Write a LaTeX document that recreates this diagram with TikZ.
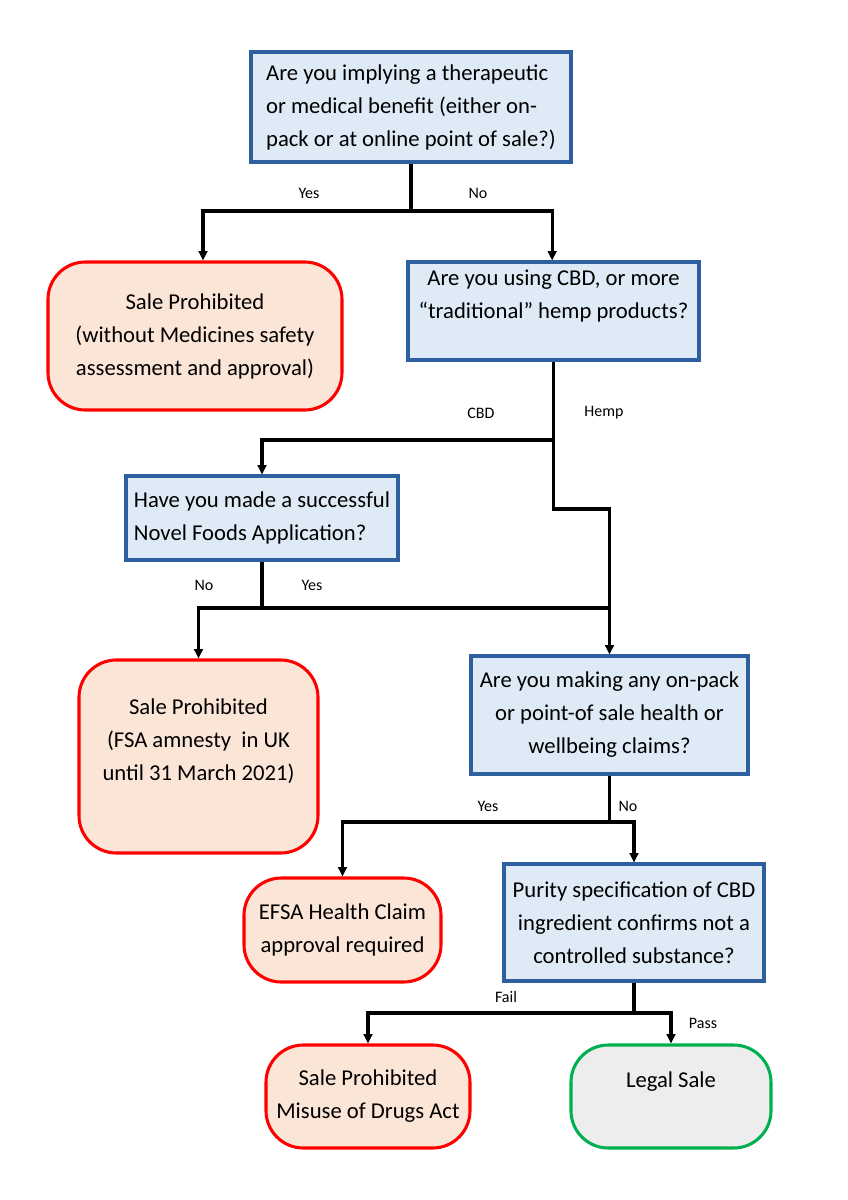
\documentclass[tikz,border=0pt]{standalone}
\usepackage{fontspec}
\setmainfont{Carlito}
\usetikzlibrary{arrows.meta}
\definecolor{bluef}{HTML}{DEEBF7}
\definecolor{blued}{HTML}{2E5F9E}
\definecolor{redd}{HTML}{FF0000}
\definecolor{redf}{HTML}{FBE5D6}
\definecolor{greyf}{HTML}{EDEDED}
\definecolor{greend}{HTML}{00B050}
\begin{document}
\begin{tikzpicture}[x=0.75pt,y=-0.75pt,
 main/.style={font=\fontsize{17}{24.75}\selectfont, inner sep=0pt, align=center},
 qbox/.style={main, draw=blued, fill=bluef, line width=2.3pt},
 term/.style={main, draw=redd, fill=redf, line width=2.3pt, rounded corners=28pt},
 good/.style={term, draw=greend, fill=greyf},
 lbl/.style={font=\fontsize{12}{14}\selectfont, inner sep=0pt},
 conn/.style={line width=2.5pt, draw=black},
 arr/.style={conn, -{Triangle[length=7pt,width=6.5pt]}},
]
\useasboundingbox (0,0) rectangle (848,1200);

\node[qbox, align=left, minimum width=240pt, minimum height=82.5pt] (b1) at (411,107) {Are you implying a therapeutic\\or medical benefit (either on-\\pack or at online point of sale?)};
\node[term, minimum width=220.5pt, minimum height=111pt] (t1) at (195,336) {Sale Prohibited\\(without Medicines safety\\assessment and approval)};
\node[qbox, minimum width=218.25pt, minimum height=73.5pt] (b2) at (553.5,311) {Are you using CBD, or more\\“traditional” hemp products?\\\mbox{}};
\node[qbox, align=left, minimum width=204pt, minimum height=63pt] (b3) at (262,518) {Have you made a successful\\Novel Foods Application?};
\node[term, minimum width=179.25pt, minimum height=144.75pt] (t2) at (198.5,756.5) {Sale Prohibited\\(FSA amnesty\ \ in UK\\until 31 March 2021)\\\mbox{}};
\node[qbox, minimum width=207.75pt, minimum height=88.5pt] (b4) at (609.5,715) {Are you making any on-pack\\or point-of sale health or\\wellbeing claims?};
\node[term, minimum width=147.75pt, minimum height=78pt] (t3) at (342.5,930) {EFSA Health Claim\\approval required};
\node[qbox, minimum width=195pt, minimum height=87.75pt] (b5) at (634,922.5) {Purity specification of CBD\\ingredient confirms not a\\controlled substance?};
\node[term, minimum width=153pt, minimum height=77.25pt] (t4) at (368,1096.5) {Sale Prohibited\\Misuse of Drugs Act};
\node[good, minimum width=150pt, minimum height=77.25pt] (t5) at (671,1096.5) {Legal Sale\\\mbox{}};

\coordinate (j1) at (411,211);
\coordinate (j2) at (553.5,440);
\coordinate (j3) at (553.5,509);
\coordinate (j4) at (262,608);
\coordinate (j5) at (609.5,822);
\coordinate (j6) at (634,1013);

\draw[conn] (b1.south) -- (j1);
\draw[arr] (j1) -| ([xshift=6pt]t1.north);
\draw[arr] (j1) -| ([xshift=-1pt]b2.north);
\draw[conn] (b2.south) -- (j2);
\draw[arr] (j2) -| (b3.north);
\draw[arr] (j2) -- (j3) -| (b4.north);
\draw[conn] (b3.south) -- (j4);
\draw[arr] (j4) -| (t2.north);
\draw[conn] (j4) -- (j4 -| b4.north);
\draw[conn] (b4.south) -- (j5);
\draw[arr] (j5) -| (t3.north);
\draw[arr] (j5) -| (b5.north);
\draw[conn] (b5.south) -- (j6);
\draw[arr] (j6) -| (t4.north);
\draw[arr] (j6) -| (t5.north);

\node[lbl] (l1) at (309,193) {Yes};
\node[lbl] (l2) at (478,193) {No};
\node[lbl] (l3) at (481,413) {CBD};
\node[lbl] (l4) at (604,413) {Hemp};
\node[lbl] (l5) at (204,585) {No};
\node[lbl] (l6) at (312,585) {Yes};
\node[lbl] (l7) at (488,806) {Yes};
\node[lbl] (l8) at (628,806) {No};
\node[lbl] (l9) at (506,997) {Fail};
\node[lbl] (l10) at (703,1023) {Pass};
\end{tikzpicture}
\end{document}
